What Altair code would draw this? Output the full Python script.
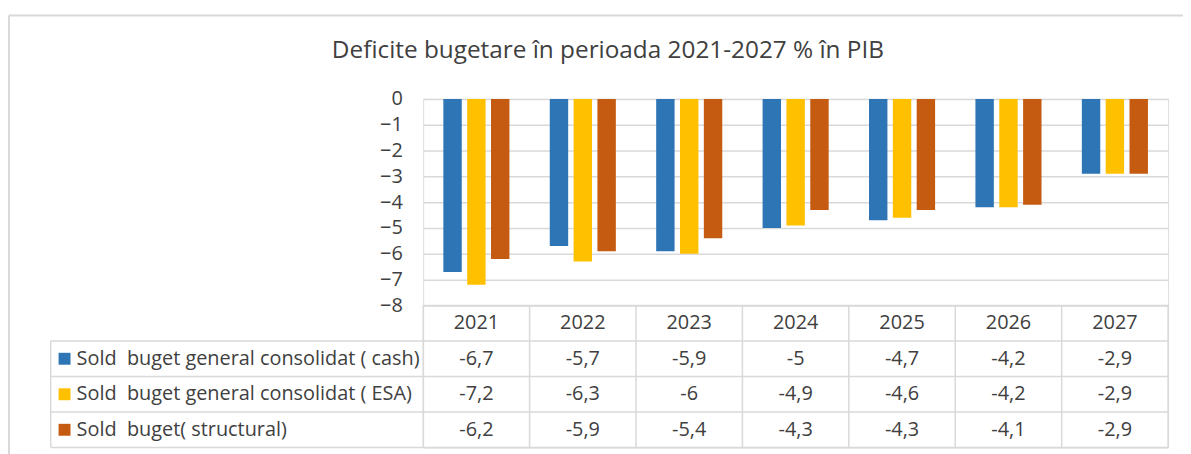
import altair as alt
import pandas as pd

# ---- data ----
years = ["2021", "2022", "2023", "2024", "2025", "2026", "2027"]
series = [
    "Sold  buget general consolidat ( cash)",
    "Sold  buget general consolidat ( ESA)",
    "Sold  buget( structural)",
]
cash = [-6.7, -5.7, -5.9, -5, -4.7, -4.2, -2.9]
esa = [-7.2, -6.3, -6, -4.9, -4.6, -4.2, -2.9]
structural = [-6.2, -5.9, -5.4, -4.3, -4.3, -4.1, -2.9]
y_ticks = [0, -1, -2, -3, -4, -5, -6, -7, -8]
title_text = "Deficite bugetare în perioada 2021-2027 % în PIB"

# ---- styles ----
colors = ["#2E75B6", "#FFC000", "#C55A11"]
FONT = "Open Sans"
FS = 20
TXT = "#404040"
GRID = "#d9d9d9"
ROW_H = 1.375          # table row height in y units
TABLE_TOP = -8
LEG_LEFT = -3.5        # legend column left edge in x units (column widths)

rows = []
for k, (name, vals) in enumerate(zip(series, [cash, esa, structural])):
    for i, (yr, v) in enumerate(zip(years, vals)):
        rows.append({"year": yr, "idx": i, "k": k, "series": name, "value": v})
df = pd.DataFrame(rows)

xs = alt.Scale(domain=[0, 7], nice=False, zero=False)
ys = alt.Scale(domain=[TABLE_TOP - 4 * ROW_H, 0], nice=False, zero=False)
cs = alt.Scale(domain=series, range=colors)

base = alt.Chart(df)

bars = base.mark_bar().transform_calculate(
    x0="datum.idx + 0.5 + (datum.k - 1) * 0.224 - 0.0865",
    x1="datum.idx + 0.5 + (datum.k - 1) * 0.224 + 0.0865",
).encode(
    x=alt.X("x0:Q", scale=xs, axis=None),
    x2="x1:Q",
    y=alt.Y("value:Q", scale=ys, title=None,
            axis=alt.Axis(values=y_ticks, grid=True, gridColor=GRID, gridWidth=1.5,
                          domain=False, ticks=False, labelFontSize=FS, labelColor=TXT,
                          labelFont=FONT, labelPadding=21)),
    y2=alt.datum(0),
    color=alt.Color("series:N", scale=cs, legend=None),
)

# table borders
lines = []
lines.append({"x": 0, "x2": 7, "y": TABLE_TOP, "y2": TABLE_TOP})
for r in range(1, 5):
    yy = TABLE_TOP - r * ROW_H
    lines.append({"x": LEG_LEFT, "x2": 7, "y": yy, "y2": yy})
lines.append({"x": LEG_LEFT, "x2": LEG_LEFT, "y": TABLE_TOP - ROW_H, "y2": TABLE_TOP - 4 * ROW_H})
for c in range(0, 8):
    lines.append({"x": c, "x2": c, "y": TABLE_TOP, "y2": TABLE_TOP - 4 * ROW_H})
ldf = pd.DataFrame(lines)
borders = alt.Chart(ldf).mark_rule(color=GRID, strokeWidth=1.5).encode(
    x=alt.X("x:Q", scale=xs, axis=None), x2="x2:Q",
    y=alt.Y("y:Q", scale=ys), y2="y2:Q",
)

# header (years)
hdf = pd.DataFrame({"year": years, "idx": list(range(len(years)))})
header = alt.Chart(hdf).mark_text(font=FONT, fontSize=FS, color=TXT, baseline="middle").transform_calculate(
    xc="datum.idx + 0.5", yc=f"{TABLE_TOP} - {ROW_H / 2}"
).encode(
    x=alt.X("xc:Q", scale=xs, axis=None),
    y=alt.Y("yc:Q", scale=ys),
    text="year:N",
)

# values in table
cells = base.mark_text(font=FONT, fontSize=FS, color=TXT, baseline="middle").transform_calculate(
    xc="datum.idx + 0.5",
    yc=f"{TABLE_TOP} - {ROW_H} * (datum.k + 1) - {ROW_H / 2}",
    lab="replace(toString(datum.value), '.', ',')",
).encode(
    x=alt.X("xc:Q", scale=xs, axis=None),
    y=alt.Y("yc:Q", scale=ys),
    text="lab:N",
)

# legend column
ser_df = pd.DataFrame({"series": series, "k": list(range(len(series))),
                       "disp": [s.replace("  ", " \u00a0") for s in series]})
leg_sq = alt.Chart(ser_df).mark_square(size=144, opacity=1).transform_calculate(
    xc=f"{LEG_LEFT} + 0.13",
    yc=f"{TABLE_TOP} - {ROW_H} * (datum.k + 1) - {ROW_H / 2}",
).encode(
    x=alt.X("xc:Q", scale=xs, axis=None),
    y=alt.Y("yc:Q", scale=ys),
    color=alt.Color("series:N", scale=cs, legend=None),
)
leg_txt = alt.Chart(ser_df).mark_text(font=FONT, fontSize=FS, color=TXT, align="left",
                                      baseline="middle").transform_calculate(
    xc=f"{LEG_LEFT} + 0.243",
    yc=f"{TABLE_TOP} - {ROW_H} * (datum.k + 1) - {ROW_H / 2}",
).encode(
    x=alt.X("xc:Q", scale=xs, axis=None),
    y=alt.Y("yc:Q", scale=ys),
    text="disp:N",
)

# outer frame of the chart object
frame_left = alt.Chart(hdf.head(1)).mark_rule(color=GRID, strokeWidth=2).encode(
    x=alt.value(-417), y=alt.value(-84), y2=alt.value(360))
frame_top = alt.Chart(hdf.head(1)).mark_rule(color=GRID, strokeWidth=2).encode(
    x=alt.value(-417), x2=alt.value(770), y=alt.value(-84))

chart = alt.layer(frame_left, frame_top, bars, borders, header, cells, leg_sq, leg_txt).properties(
    width=750, height=351,
    title=alt.Title(title_text, font=FONT, fontSize=24.5, fontWeight="normal", color=TXT,
                    anchor="middle", frame="group", dx=-189, offset=-61, baseline="middle"),
    autosize=alt.AutoSizeParams(type="none"),
    padding={"left": 418, "top": 90, "right": 15, "bottom": 5},
).configure_view(stroke=None).configure(background="white")

chart.save("out.html", embed_options={"renderer": "svg", "actions": False})
